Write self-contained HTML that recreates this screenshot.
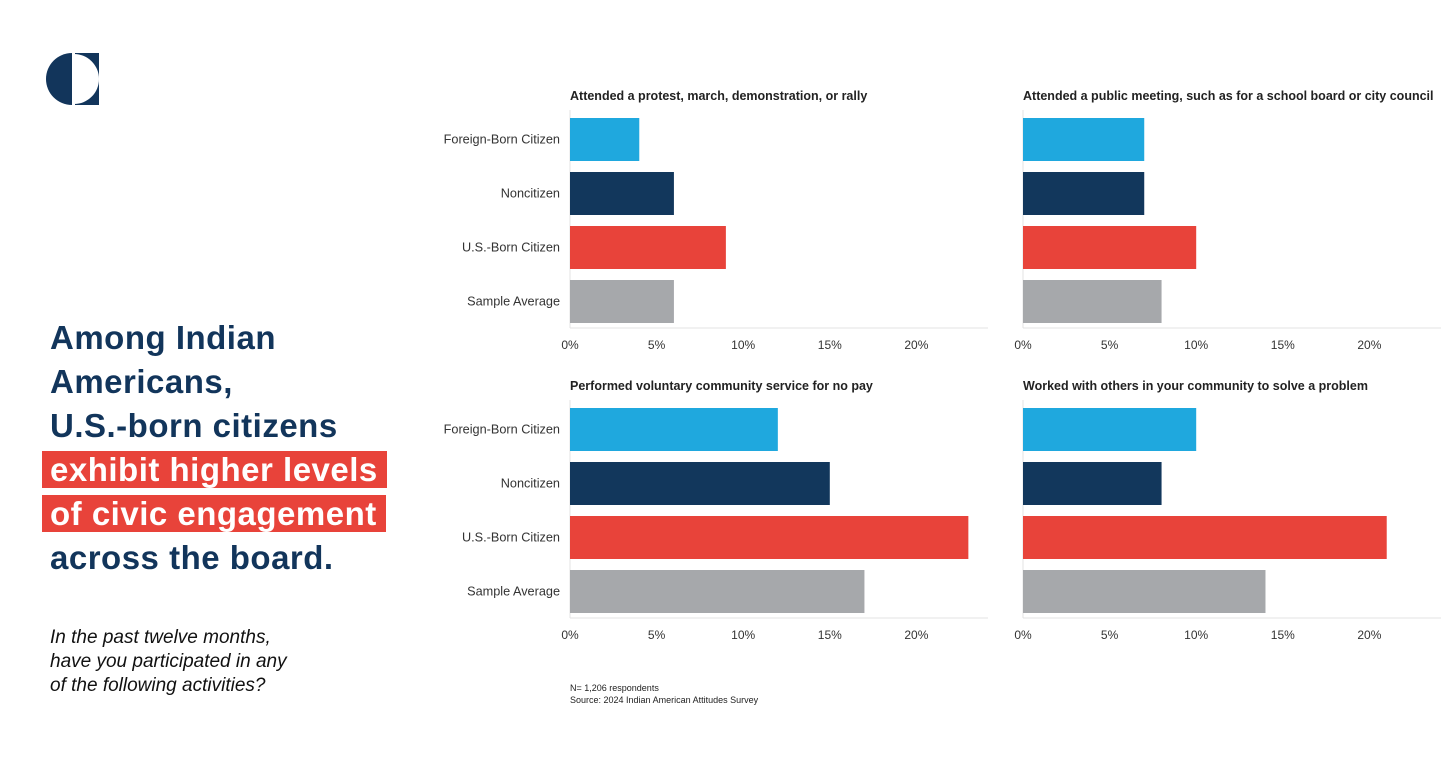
<!DOCTYPE html>
<html><head><meta charset="utf-8"><style>
body{margin:0;width:1456px;height:762px;background:#fff;overflow:hidden;font-family:"Liberation Sans",sans-serif;position:relative}
#logo{position:absolute;left:46px;top:53px}
#headline{position:absolute;left:50px;top:316px;font-size:33px;font-weight:bold;color:#12355b;line-height:44px;letter-spacing:0.5px}
.hl{background:#e8433a;color:#fff;padding:0 9px 0 8px;margin-left:-8px}
#question{position:absolute;left:50px;top:626px;font-size:19px;font-style:italic;color:#111;line-height:24px}
svg#chart{position:absolute;left:0;top:0}
</style></head><body>
<svg id="logo" width="54" height="54" viewBox="0 0 54 54">
<rect x="29" y="0" width="24" height="52" fill="#12355b"/>
<circle cx="28" cy="26" r="25" fill="#fff"/>
<path d="M26 0 A26 26 0 0 0 26 52 Z" fill="#12355b"/>
</svg>
<div id="headline">Among Indian<br>Americans,<br>U.S.-born citizens<br><span class="hl">exhibit higher levels</span><br><span class="hl">of civic engagement</span><br>across the board.</div>
<div id="question">In the past twelve months,<br>have you participated in any<br>of the following activities?</div>
<svg id="chart" width="1456" height="762"></svg>
<script>
const categories=["Foreign-Born Citizen","Noncitizen","U.S.-Born Citizen","Sample Average"];
const colors=["#1fa8de","#12375c","#e8433a","#a6a8ab"];
const titles=["Attended a protest, march, demonstration, or rally","Attended a public meeting, such as for a school board or city council","Performed voluntary community service for no pay","Worked with others in your community to solve a problem"];
const protestValues=[4,6,9,6];
const meetingValues=[7,7,10,8];
const serviceValues=[12,15,23,17];
const workedValues=[10,8,21,14];
const tickValues=[0,5,10,15,20];
const panelValues=[protestValues,meetingValues,serviceValues,workedValues];
const svg=document.getElementById('chart');
const NS="http://www.w3.org/2000/svg";
function mk(t,a,p){const e=document.createElementNS(NS,t);for(const k in a)e.setAttribute(k,a[k]);(p||svg).appendChild(e);return e;}
const panels=[{x0:570,x1:988,top:118,name:'protest'},{x0:1023,x1:1441,top:118,name:'meeting'},{x0:570,x1:988,top:408,name:'service'},{x0:1023,x1:1441,top:408,name:'worked'}];
const pxPer=17.32,pitch=54,bh=43;
panels.forEach((p,i)=>{
 const g=mk('g',{});
 
 
 const xs=v=>p.x0+v*pxPer;
 const t=mk('text',{x:p.x0,y:p.top-18,'font-size':12.5,'font-weight':'bold',fill:'#222'},g);t.textContent=titles[i];
 
 
 const axisY=p.top+210;
 mk('line',{x1:p.x0,x2:p.x0,y1:p.top-8,y2:axisY,stroke:'#e3e3e3'},g);
 mk('line',{x1:p.x0,x2:p.x1,y1:axisY,y2:axisY,stroke:'#e3e3e3'},g);
 tickValues.forEach(tv=>{
  const tl=mk('text',{x:xs(tv),y:axisY+21,'font-size':12,fill:'#333','text-anchor':'middle'},g);tl.textContent=tv+'%';
  
  
 });
 categories.forEach((c,j)=>{
  const y=p.top+j*pitch;
  if(i%2===0){const l=mk('text',{x:p.x0-10,y:y+bh/2+4,'font-size':12.7,fill:'#333','text-anchor':'end'},g);l.textContent=c;
   
   }
  const r=mk('rect',{x:p.x0,y:y,width:xs(panelValues[i][j])-p.x0,height:bh,fill:colors[j]},g);
  
  
 });
});
const n1=mk('text',{x:570,y:691,'font-size':9,fill:'#222'});n1.textContent='N= 1,206 respondents';


const n2=mk('text',{x:570,y:703,'font-size':9,fill:'#222'});n2.textContent='Source: 2024 Indian American Attitudes Survey';


</script>
</body></html>
